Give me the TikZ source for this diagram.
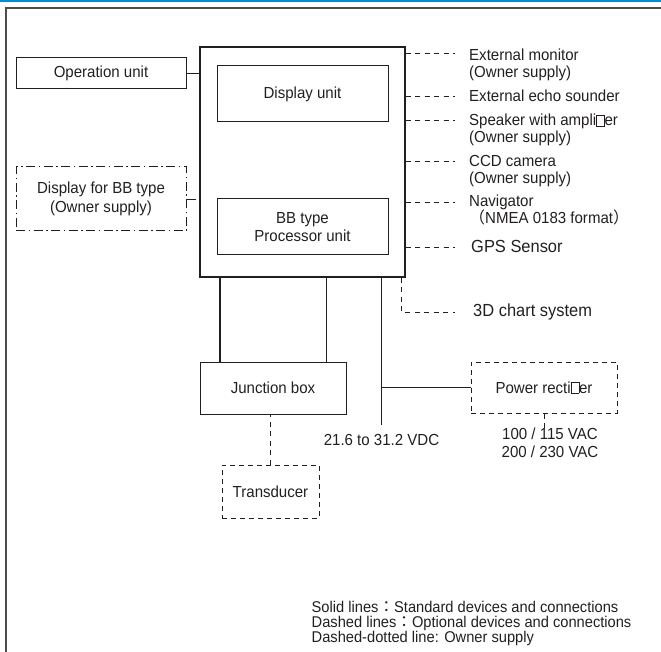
\documentclass[tikz,border=0pt]{standalone}
\usepackage{fontspec}
\setmainfont{Liberation Sans}[FakeStretch=0.94]
\newfontfamily\cjk{Noto Sans CJK JP}
\usetikzlibrary{positioning}
\definecolor{topblue}{RGB}{0,143,210}
\definecolor{ink}{RGB}{35,31,32}
\lineskiplimit=-100pt
\newcommand{\nofi}{{\fboxsep0pt\fboxrule0.5pt\fbox{\rule{0pt}{0.66em}\hspace{0.46em}}}}
\tikzset{
  unit/.style={draw=ink, line width=1pt, inner sep=0pt, align=center, text=ink, font=\fontsize{16}{18.5}\selectfont},
  optunit/.style={unit, dash pattern=on 5pt off 4pt},
  ownerunit/.style={unit, dash pattern=on 9pt off 3.5pt on 1.5pt off 3.5pt},
  lbl/.style={inner sep=0pt, align=left, text=ink, font=\fontsize{16}{16.8}\selectfont},
  biglbl/.style={lbl, font=\fontsize{17.5}{18}\selectfont},
  optline/.style={draw=ink, line width=0.8pt, dash pattern=on 5pt off 4.5pt},
  ownerline/.style={draw=ink, line width=0.8pt, dash pattern=on 9pt off 3.5pt on 1.5pt off 3.5pt},
  stdline/.style={draw=ink, line width=1pt},
  cable/.style={draw=ink, line width=1.9pt}
}
\begin{document}
\begin{tikzpicture}[x=1pt,y=-1pt]
        \useasboundingbox (0,0) rectangle (661,652);
        \draw [topblue, line width=1.6pt] (0,0.8) -- (661,0.8);
        \draw [black!70, line width=1.4pt] (6,652) -- (6,8) -- (661,8);

        \node [unit, minimum width=170pt, minimum height=31pt] (opunit) at (101,73.5) {Operation unit};
        \node [unit, line width=1.2pt, minimum width=205pt, minimum height=230pt] (main) at (302.5,162) {};
        \node [unit, minimum width=171pt, minimum height=56pt] (dispunit) at (302.5,94) {Display unit};
        \node [unit, minimum width=171pt, minimum height=56pt] (procunit) at (302.5,227) {BB type\\Processor unit};
        \node [ownerunit, minimum width=170pt, minimum height=64pt] (bbdisp) at (101,199) {Display for BB type\\(Owner supply)};
        \node [unit, minimum width=146pt, minimum height=52pt] (jbox) at (273,388) {Junction box};
        \node [optunit, minimum width=97pt, minimum height=53pt] (xducer) at (270.5,491.5) {Transducer};
        \node [optunit, minimum width=146pt, minimum height=51pt] (rectifier) at (544,387.5) {Power recti\nofi er};

        \node [lbl, anchor=north west] (extmon) at (469,49) {External monitor\\(Owner supply)};
        \node [lbl, anchor=north west] (echo) at (469,90) {External echo sounder};
        \node [lbl, anchor=north west] (speaker) at (469,114) {Speaker with ampli\nofi er\\(Owner supply)};
        \node [lbl, anchor=north west] (ccd) at (469,155) {CCD camera\\(Owner supply)};
        \node [lbl, anchor=north west] (nav) at (469,195) {Navigator\\{\cjk （}NMEA 0183 format{\cjk ）}};
        \node [biglbl, anchor=north west] (gps) at (471,240.5) {GPS Sensor};
        \node [biglbl, anchor=north west] (chart) at (473,304) {3D chart system};

        \coordinate (extmon-e) at (455,53);
        \coordinate (echo-e) at (455,96);
        \coordinate (speaker-e) at (455,120);
        \coordinate (ccd-e) at (455,161);
        \coordinate (nav-e) at (455,202);
        \coordinate (gps-e) at (455,247);
        \coordinate (chart-e) at (455,312);
        \coordinate (vdc-e) at (381.5,425);

        \draw [stdline] (opunit.east) -- (opunit.east -| main.west);
        \draw [ownerline] (bbdisp.east) -- (bbdisp.east -| main.west);
        \draw [optline] (main.east |- extmon-e) -- (extmon-e);
        \draw [optline] (main.east |- echo-e) -- (echo-e);
        \draw [optline] (main.east |- speaker-e) -- (speaker-e);
        \draw [optline] (main.east |- ccd-e) -- (ccd-e);
        \draw [optline] (main.east |- nav-e) -- (nav-e);
        \draw [optline] (main.east |- gps-e) -- (gps-e);
        \draw [optline] ([xshift=-4pt]main.south east) |- (chart-e);

        \draw [cable] ([xshift=20.5pt]jbox.north west) -- ([xshift=20.5pt]jbox.north west |- main.south);
        \draw [cable] ([xshift=-20pt]jbox.north east) -- ([xshift=-20pt]jbox.north east |- main.south);
        \draw [stdline, line width=1.5pt] (main.south -| vdc-e) -- (vdc-e);
        \draw [stdline, line width=1.3pt] (rectifier.west -| vdc-e) -- (rectifier.west);
        \draw [optline] (xducer.north) -- (xducer.north |- jbox.south);

        \node [lbl, below=9pt of vdc-e] (vdc) {21.6 to 31.2 VDC};
        \node [lbl, align=center, font=\fontsize{16}{18.3}\selectfont, below=14pt of rectifier, xshift=6pt] (ac) {100 / 115 VAC\\200 / 230 VAC};
        \draw [optline, shorten >=-3pt] (rectifier.south) -- (rectifier.south |- ac.north);

        \node [lbl, anchor=north west, font=\fontsize{15.6}{15.2}\selectfont] (legend) at (311.5,601) {Solid lines{\cjk ：}Standard devices and connections\\Dashed lines{\cjk ：}Optional devices and connections\\Dashed-dotted line: Owner supply};
    \end{tikzpicture}
\end{document}
